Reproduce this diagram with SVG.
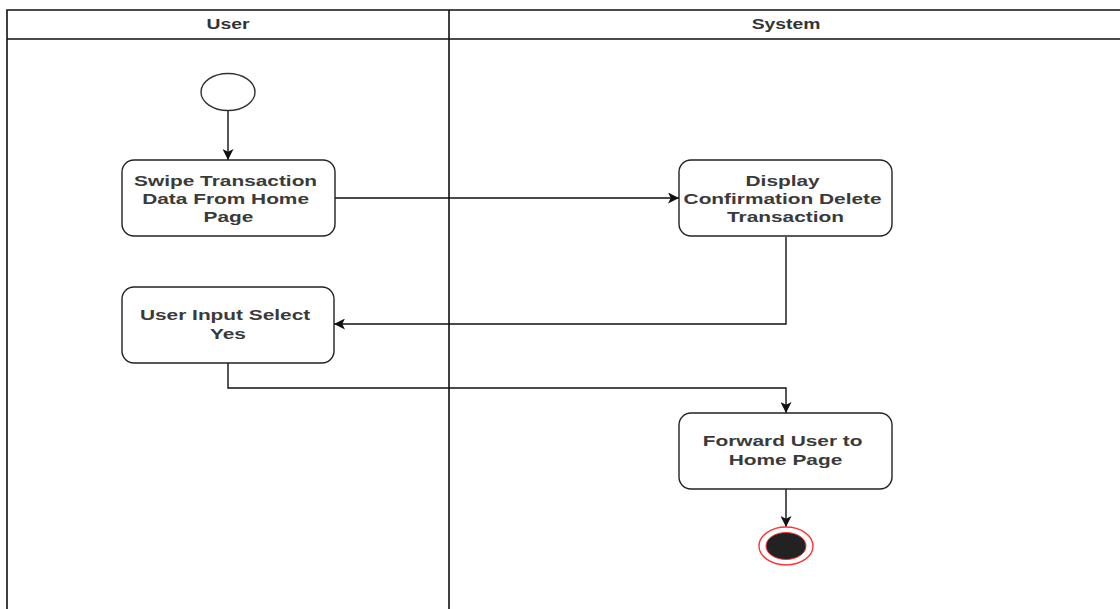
<svg xmlns="http://www.w3.org/2000/svg" width="1120" height="609" viewBox="0 0 1120 609">
  <style>
    .lane { fill: none; stroke: #111; stroke-width: 1.6; }
    .head { font-family: "Liberation Sans", Arial, sans-serif; font-size: 14px; font-weight: bold; fill: #333; text-anchor: middle; }
    .box { fill: #fff; stroke: #222; stroke-width: 1.4; }
    .label { font-family: "Liberation Sans", Arial, sans-serif; font-size: 15px; font-weight: bold; fill: #3a3a3a; text-anchor: middle; }
    .edge { fill: none; stroke: #111; stroke-width: 1.4; }
  </style>
  <defs>
    <marker id="arrow" viewBox="0 0 10 10" refX="10" refY="5" markerWidth="11" markerHeight="11" markerUnits="userSpaceOnUse" orient="auto">
      <path d="M0,0 L10,5 L0,10 L2.5,5 Z" fill="#111"/>
    </marker>
  </defs>
  <rect width="1120" height="609" fill="#fff"/>

  <!-- swimlane frame -->
  <g id="lanes">
    <path class="lane" d="M7,609 V10 H1120 M7,39 H1120 M449,10 V609"/>
    <text class="head" transform="translate(228 0) scale(1.38 1)" x="0" y="29">User</text>
    <text class="head" transform="translate(786 0) scale(1.38 1)" x="0" y="29">System</text>
  </g>

  <!-- connectors -->
  <g id="connectors">
    <path class="edge" marker-end="url(#arrow)" d="M228,111 V160"/>
    <path class="edge" marker-end="url(#arrow)" d="M335,198 H679"/>
    <path class="edge" marker-end="url(#arrow)" d="M786,237 V324 H334"/>
    <path class="edge" marker-end="url(#arrow)" d="M228,363 V388 H786 V413"/>
    <path class="edge" marker-end="url(#arrow)" d="M786,489 V527"/>
  </g>

  <g id="start">
    <ellipse cx="228" cy="92" rx="27" ry="18.5" fill="#fff" stroke="#333" stroke-width="1.4"/>
  </g>

  <g id="swipe">
    <rect class="box" x="122" y="160" width="213" height="76" rx="12" ry="12"/>
    <text class="label" transform="translate(228.5 0) scale(1.39 1)">
      <tspan x="0" y="186">Swipe Transaction</tspan>
      <tspan x="0" y="204.3">Data From Home</tspan>
      <tspan x="0" y="222.5">Page</tspan>
    </text>
  </g>

  <g id="confirm">
    <rect class="box" x="679" y="160" width="213" height="76" rx="12" ry="12"/>
    <text class="label" transform="translate(785.5 0) scale(1.39 1)">
      <tspan x="0" y="186">Display</tspan>
      <tspan x="0" y="204.3">Confirmation Delete</tspan>
      <tspan x="0" y="222.5">Transaction</tspan>
    </text>
  </g>

  <g id="select">
    <rect class="box" x="122" y="287" width="212" height="76" rx="12" ry="12"/>
    <text class="label" transform="translate(228 0) scale(1.39 1)">
      <tspan x="0" y="320.5">User Input Select</tspan>
      <tspan x="0" y="339">Yes</tspan>
    </text>
  </g>

  <g id="forward">
    <rect class="box" x="679" y="413" width="213" height="76" rx="12" ry="12"/>
    <text class="label" transform="translate(785.5 0) scale(1.39 1)">
      <tspan x="0" y="446.5">Forward User to</tspan>
      <tspan x="0" y="465">Home Page</tspan>
    </text>
  </g>

  <g id="end">
    <ellipse cx="786" cy="546" rx="27" ry="19" fill="#fff" stroke="#f33" stroke-width="1.4"/>
    <ellipse cx="786" cy="546" rx="20" ry="13.5" fill="#222" stroke="#f33" stroke-width="1"/>
  </g>
</svg>
